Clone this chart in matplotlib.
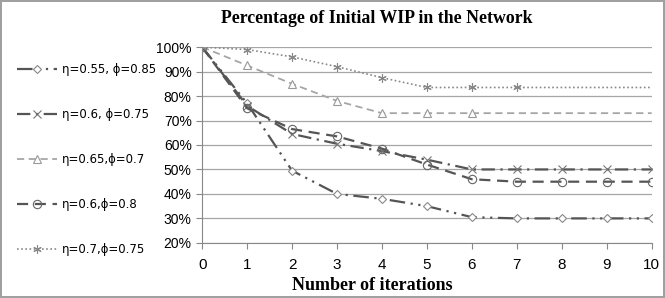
import matplotlib
matplotlib.use("Agg")
import matplotlib.pyplot as plt
from matplotlib.ticker import PercentFormatter

iterations = list(range(11))
s1 = [1.00, 0.77, 0.495, 0.40, 0.38, 0.35, 0.305, 0.30, 0.30, 0.30, 0.30]
s2 = [1.00, 0.76, 0.645, 0.605, 0.575, 0.54, 0.50, 0.50, 0.50, 0.50, 0.50]
s3 = [1.00, 0.925, 0.85, 0.78, 0.73, 0.73, 0.73, 0.73, 0.73, 0.73, 0.73]
s4 = [1.00, 0.75, 0.665, 0.635, 0.585, 0.52, 0.46, 0.45, 0.45, 0.45, 0.45]
s5 = [1.00, 0.99, 0.96, 0.92, 0.875, 0.835, 0.835, 0.835, 0.835, 0.835, 0.835]
labels = ["η=0.55, ϕ=0.85", "η=0.6, ϕ=0.75", "η=0.65,ϕ=0.7", "η=0.6,ϕ=0.8", "η=0.7,ϕ=0.75"]
yticks = [0.2, 0.3, 0.4, 0.5, 0.6, 0.7, 0.8, 0.9, 1.0]

fig = plt.figure(figsize=(6.65, 2.98), dpi=100)
fig.patch.set_edgecolor("#a0a0a0")
fig.patch.set_linewidth(1.5)
ax = fig.add_axes([0.304, 0.185, 0.676, 0.657])

dark = "#555555"
light = "#a6a6a6"
l1, = ax.plot(iterations, s1, color=dark, lw=1.6, dashes=(7, 2.5, 1, 2.5, 1, 2.5),
              marker="D", ms=4, mfc="white", mec="#888888", mew=0.8, label=labels[0])
l2, = ax.plot(iterations, s2, color=dark, lw=1.6, dashes=(6, 2.5, 1, 2.5),
              marker="x", ms=6, mec="#777777", mew=0.8, label=labels[1])
l3, = ax.plot(iterations, s3, color=light, lw=1.3, dashes=(4, 2.5),
              marker="^", ms=6, mfc="white", mec="#999999", mew=0.8, markevery=list(range(7)),
              label=labels[2])
l4, = ax.plot(iterations, s4, color=dark, lw=1.6, dashes=(5, 3),
              marker="o", ms=6, mfc="none", mec="#666666", mew=0.8, label=labels[3])
l5, = ax.plot(iterations, s5, color="#888888", lw=1.2, dashes=(1, 1.5),
              marker=(6, 2, 0), ms=6, mec="#888888", mew=0.8, markevery=list(range(8)),
              label=labels[4])

ax.set_xlim(0, 10)
ax.set_ylim(0.2, 1.0)
ax.set_xticks(iterations)
ax.set_yticks(yticks)
ax.yaxis.set_major_formatter(PercentFormatter(1.0, decimals=0))
ax.grid(axis="y", color="#a6a6a6", lw=0.9)
ax.set_axisbelow(True)
for sp in ["top", "right"]:
    ax.spines[sp].set_visible(False)
ax.spines["left"].set_color("#888888")
ax.spines["bottom"].set_color("#888888")
ax.tick_params(axis="both", colors="#888888", labelcolor="black", labelsize=10, length=4)
for lbl in ax.get_xticklabels() + ax.get_yticklabels():
    lbl.set_fontfamily("Liberation Sans")
ax.tick_params(axis="x", pad=7, labelsize=11)

fig.text(0.567, 0.938, "Percentage of Initial WIP in the Network", ha="center", va="center",
         fontsize=12.8, fontweight="bold", family="Liberation Serif")
fig.text(0.56, 1 - 285 / 298, "Number of iterations", ha="center", va="center",
         fontsize=13, fontweight="bold", family="Liberation Serif")

leg = fig.legend(handles=[l1, l2, l3, l4, l5], loc="center left", bbox_to_anchor=(0.01, 0.465),
                 frameon=False, handlelength=3.4, handletextpad=0.4, labelspacing=2.7,
                 prop={"family": "DejaVu Sans", "size": 8.5})

fig.savefig("out.png", dpi=100, edgecolor=fig.get_edgecolor())
